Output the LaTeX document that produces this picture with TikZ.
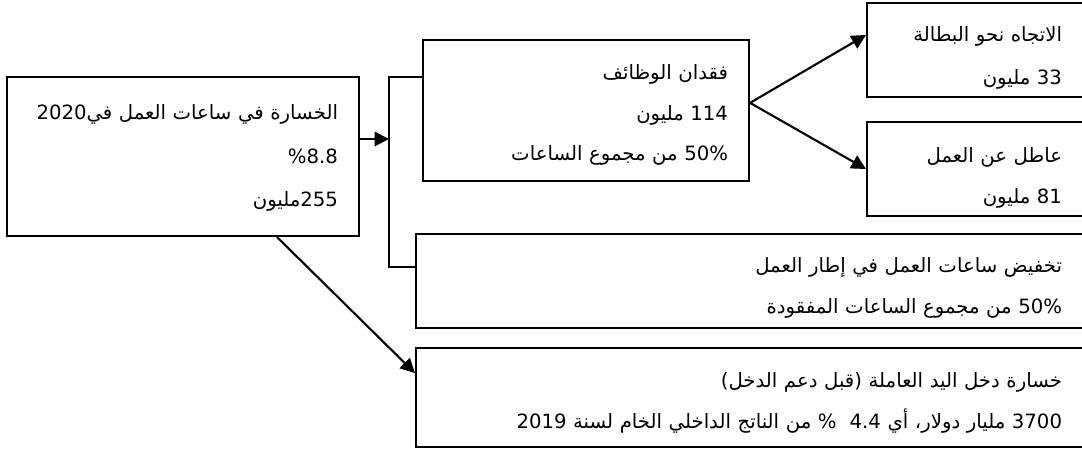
\documentclass[tikz,border=0pt]{standalone}
\usepackage{fontspec}
\usepackage{tikz}
\usetikzlibrary{arrows.meta,positioning,calc}
\TeXXeTstate=1
\newfontfamily\arabicfont[Script=Arabic]{DejaVu Sans}
\newcommand{\rtlline}[1]{\beginR #1\endR}

\begin{document}
\begin{tikzpicture}[
  font=\arabicfont\fontsize{14}{28.5}\selectfont,
  every node/.style={align=right},
  firstline/.style={text height=0pt, text depth=#1},
  rootbox/.style={rectangle, draw, line width=1.5pt, inner xsep=0.525cm,
                  text width=7.75cm, minimum height=3.975cm},
  branchbox/.style={rectangle, draw, line width=1.5pt, inner xsep=0.525cm,
                    text width=7.1cm, minimum height=3.525cm},
  leafbox/.style={rectangle, draw, line width=1.5pt, inner xsep=0.525cm,
                  text width=4.35cm, minimum height=2.35cm},
  widebox/.style={rectangle, draw, line width=1.5pt, inner xsep=0.525cm,
                  text width=15.625cm},
  >={Triangle[length=3.6mm,width=3.6mm]},
  link/.style={line width=1.5pt}
]
\useasboundingbox (0,0) rectangle (27.05,11.2);

% Root
\node[rootbox, firstline=1.825cm] (loss) at (4.575, 7.2875)
  {\rtlline{الخسارة في ساعات العمل في2020}\\[2.4pt]
   \rtlline{\%8.8}\\[2.4pt]
   \rtlline{255مليون}};

% First split
\node[branchbox, firstline=1.525cm] (jobs) at (14.65, 8.4375)
  {\rtlline{فقدان الوظائف}\\
   \rtlline{114 مليون}\\
   \rtlline{50\% من مجموع الساعات}};

\node[widebox, minimum height=2.35cm, firstline=0.4cm] (hours) at (18.7375, 4.175)
  {\rtlline{تخفيض ساعات العمل في إطار العمل}\\
   \rtlline{50\% من مجموع الساعات المفقودة}};

\node[widebox, minimum height=2.475cm, firstline=0.475cm] (income) at (18.7375, 1.2625)
  {\rtlline{خسارة دخل اليد العاملة (قبل دعم الدخل)}\\
   \rtlline{3700 مليار دولار، أي 4.4 \ \% من الناتج الداخلي الخام لسنة 2019}};

% Second split (from jobs)
\node[leafbox, firstline=0.4cm] (trend) at (24.375, 9.95)
  {\rtlline{الاتجاه نحو البطالة}\\[2pt]
   \rtlline{33 مليون}};

\node[leafbox, firstline=0.3cm] (idle) at (24.375, 6.975)
  {\rtlline{عاطل عن العمل}\\
   \rtlline{81 مليون}};

% Bus
\coordinate (bus)    at (9.725, 7.725);
\coordinate (bustop) at (9.725, 9.275);
\coordinate (busbot) at (9.725, 4.525);

% Edges - first split
\draw[link, ->] (loss.east |- bus) -- (bus);
\draw[link] (jobs.west |- bustop) -- (bustop) -- (busbot) -- (hours.west |- busbot);
\draw[link, ->] ([xshift=2.35cm]loss.south) -- ([yshift=0.61cm]income.west);

% Edges - second split
\draw[link, ->] ([yshift=0.19cm]jobs.east) -- ([yshift=0.375cm]trend.west);
\draw[link, ->] ([yshift=0.19cm]jobs.east) -- (idle.west);

\end{tikzpicture}
\end{document}
